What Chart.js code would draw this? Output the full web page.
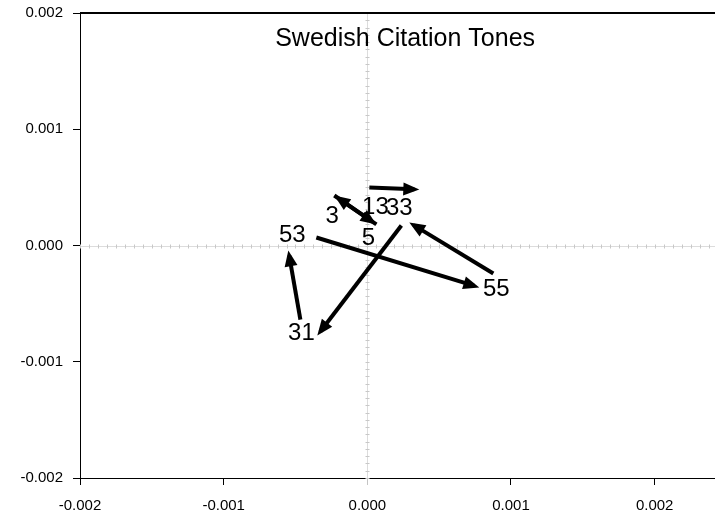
<!DOCTYPE html>
<html>
<head>
<meta charset="utf-8">
<script src="https://cdn.jsdelivr.net/npm/chart.js@4/dist/chart.umd.min.js"></script>
<style>
  html, body { margin: 0; padding: 0; background: #fff; }
</style>
</head>
<body>
<canvas id="toneChart" width="715" height="517"></canvas>
<script>
// Swedish Citation Tones - tone labels and arrows between them
const toneLabels = ['53', '55', '31', '33', '13', '3', '5'];
const labelX = [-0.000522, 0.000898, -0.000459, 0.000223, 0.000056, -0.000244, 0.000007];
const labelY = [0.000077, -0.000387, -0.000766, 0.000310, 0.000318, 0.000241, 0.000052];

// arrows: start (x0,y0) -> end (x1,y1)
const arrowX0 = [-0.000355, 0.000877, 0.000237, -0.000466, 0.000014, 0.000063, -0.000230];
const arrowY0 = [0.000069, -0.000241, 0.000172, -0.000637, 0.000499, 0.000181, 0.000430];
const arrowX1 = [0.000746, 0.000322, -0.000327, -0.000544, 0.000327, -0.000201, 0.000034];
const arrowY1 = [-0.000348, 0.000175, -0.000740, -0.000085, 0.000483, 0.000406, 0.000205];

const xTicks = [-0.002, -0.001, 0, 0.001, 0.002];
const yTicks = [-0.002, -0.001, 0, 0.001, 0.002];

const FONT = 'Arial, "Liberation Sans", sans-serif';

const arrowSets = arrowX0.map((x0, i) => ({
    label: 'arrow' + i,
    data: [{x: x0, y: arrowY0[i]}, {x: arrowX1[i], y: arrowY1[i]}],
    showLine: true,
    borderColor: '#000',
    borderWidth: 4,
    pointRadius: 0,
    isArrow: true
}));

const labelSet = {
    label: 'tones',
    data: labelX.map((x, i) => ({x: x, y: labelY[i]})),
    pointRadius: 0,
    showLine: false
};

// zero lines with minor ticks, top border, title, arrow heads and labels
const decor = {
    id: 'decor',
    beforeDatasetsDraw(chart) {
        const {ctx, chartArea: a, scales: {x, y}} = chart;
        const x0 = Math.round(x.getPixelForValue(0)) + 0.5, y0 = Math.round(y.getPixelForValue(0)) + 0.5;
        ctx.save();
        ctx.strokeStyle = '#dcdcdc';
        ctx.lineWidth = 1;
        ctx.beginPath();
        ctx.moveTo(x0, a.top);
        ctx.lineTo(x0, a.bottom);
        ctx.moveTo(a.left, y0);
        ctx.lineTo(a.right, y0);
        ctx.stroke();
        // minor ticks
        const step = 0.001 / 16;
        ctx.strokeStyle = '#c8c8c8';
        ctx.beginPath();
        for (let k = -32; k <= 40; k++) {
            const px = Math.round(x.getPixelForValue(k * step)) + 0.5;
            if (px < a.left || px > a.right) continue;
            ctx.moveTo(px, y0 - 2);
            ctx.lineTo(px, y0 + 2);
        }
        for (let k = -32; k <= 32; k++) {
            const py = Math.round(y.getPixelForValue(k * step)) + 0.5;
            ctx.moveTo(x0 - 2, py);
            ctx.lineTo(x0 + 2, py);
        }
        ctx.stroke();
        // top border
        ctx.strokeStyle = '#000';
        ctx.lineWidth = 2;
        ctx.beginPath();
        ctx.moveTo(a.left, a.top);
        ctx.lineTo(a.right, a.top);
        ctx.stroke();
        ctx.restore();
    },
    afterDatasetsDraw(chart) {
        const {ctx, chartArea: a} = chart;
        ctx.save();
        chart.data.datasets.forEach((ds, i) => {
            const meta = chart.getDatasetMeta(i);
            if (ds.isArrow) {
                const p0 = meta.data[0], p1 = meta.data[1];
                const ang = Math.atan2(p1.y - p0.y, p1.x - p0.x);
                const tipX = p1.x + 5 * Math.cos(ang), tipY = p1.y + 5 * Math.sin(ang);
                const len = 16, half = 6.5;
                const bx = tipX - len * Math.cos(ang), by = tipY - len * Math.sin(ang);
                ctx.fillStyle = '#000';
                ctx.beginPath();
                ctx.moveTo(tipX, tipY);
                ctx.lineTo(bx + half * Math.sin(ang), by - half * Math.cos(ang));
                ctx.lineTo(bx - half * Math.sin(ang), by + half * Math.cos(ang));
                ctx.closePath();
                ctx.fill();
            } else {
                ctx.fillStyle = '#000';
                ctx.font = '24px ' + FONT;
                ctx.textAlign = 'center';
                ctx.textBaseline = 'alphabetic';
                meta.data.forEach((pt, j) => {
                    ctx.fillText(toneLabels[j], pt.x, pt.y + 0.24 * 24);
                });
            }
        });
        // title inside the plot area
        ctx.fillStyle = '#000';
        ctx.font = '25px ' + FONT;
        ctx.textAlign = 'center';
        ctx.textBaseline = 'alphabetic';
        ctx.fillText('Swedish Citation Tones', a.left + 0.512 * (a.right - a.left), 46);
        ctx.restore();
    }
};

const tickFmt = v => Number(v).toFixed(3);

new Chart(document.getElementById('toneChart'), {
    type: 'scatter',
    data: { datasets: [...arrowSets, labelSet] },
    options: {
        responsive: false,
        animation: false,
        layout: { padding: { top: 13, right: 0, left: 0, bottom: 0 } },
        plugins: { legend: { display: false }, tooltip: { enabled: false } },
        scales: {
            x: {
                type: 'linear',
                min: -0.002,
                max: 0.00242,
                afterBuildTicks: s => { s.ticks = xTicks.map(v => ({value: v})); },
                afterFit: s => { s.height = 39; s.paddingLeft = 0; s.paddingRight = 0; },
                ticks: { callback: tickFmt, color: '#000', font: { family: FONT, size: 15 }, padding: 12, maxRotation: 0 },
                grid: { drawOnChartArea: false, tickLength: 7, tickColor: c => c.tick && c.tick.value === 0 ? '#c4c4c4' : '#000' },
                border: { color: '#000', width: 1 }
            },
            y: {
                type: 'linear',
                min: -0.002,
                max: 0.002,
                afterBuildTicks: s => { s.ticks = yTicks.map(v => ({value: v})); },
                afterFit: s => { s.width = 80; s.paddingTop = 0; s.paddingBottom = 0; },
                ticks: { callback: tickFmt, color: '#000', font: { family: FONT, size: 15 }, padding: 10 },
                grid: { drawOnChartArea: false, tickLength: 7, tickColor: '#000' },
                border: { color: '#000', width: 1 }
            }
        }
    },
    plugins: [decor]
});
</script>
</body>
</html>
